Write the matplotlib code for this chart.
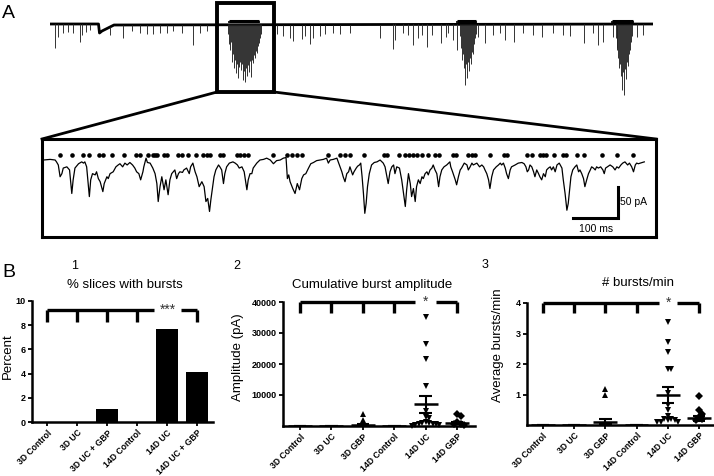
import numpy as np
import matplotlib
matplotlib.use('Agg')
import matplotlib.pyplot as plt
from matplotlib.patches import Rectangle

plt.rcParams['font.family'] = ['Liberation Sans', 'DejaVu Sans']

# ---------------- DATA ----------------
# Panel A, long recording (time in s, amplitude in pA, downward events)
baseline_t = [0, 48.5, 49.5, 52, 56, 60, 64, 603]
baseline_v = [0, 0, -36, -28, -20, -12, -4, 0]
spike_t = [5, 8, 13, 18, 23, 30, 32, 36, 40, 60, 73, 82, 90, 97, 103, 110, 117, 123, 132, 143,
           150, 157, 227, 233, 240, 243, 252, 255, 260, 263, 270, 275, 283, 290, 300, 330, 343, 345,
           353, 358, 363, 368, 372, 377, 382, 391, 396, 398, 403, 407, 428, 435, 443, 450, 455, 464,
           473, 483, 492, 503, 513, 520, 534, 543, 548, 553, 563, 567, 587, 593, 603]
spike_a = [96, 52, 36, 32, 36, 72, 44, 32, 24, 32, 52, 24, 32, 36, 36, 32, 32, 24, 32, 80,
           32, 24, 36, 44, 52, 64, 56, 44, 76, 52, 44, 36, 32, 36, 32, 52, 100, 64,
           36, 44, 84, 56, 44, 92, 44, 76, 52, 36, 64, 104, 52, 76, 44, 36, 64, 72,
           36, 44, 52, 36, 44, 48, 76, 36, 84, 72, 52, 96, 52, 44, 72]
burst1_t = [178, 179, 180, 181, 182, 183, 184, 185, 186, 187, 188, 189, 190, 191, 192, 193, 194,
            195, 196, 197, 198, 199, 200, 201, 202, 203, 204, 205, 206, 207, 208, 209, 210, 211]
burst1_a = [40, 80, 104, 72, 152, 120, 176, 144, 196, 160, 216, 172, 152, 184, 160, 224, 188,
            232, 176, 208, 164, 192, 148, 212, 144, 156, 124, 136, 108, 116, 88, 76, 56, 40]
burst2_t = [410, 411, 412, 413, 414, 415, 416, 417, 418, 419, 420, 421, 422, 423, 424, 425, 426]
burst2_a = [48, 96, 144, 120, 176, 244, 160, 216, 152, 188, 136, 160, 112, 120, 80, 56, 40]
burst3_t = [566, 567, 568, 569, 570, 571, 572, 573, 574, 575, 576, 577, 578, 579, 580, 581, 582]
burst3_a = [56, 104, 136, 176, 160, 208, 264, 192, 284, 180, 220, 152, 168, 120, 104, 72, 48]
burst_start = [179, 407, 562]
burst_end = [209, 426, 583]

# Panel A, expanded trace: (time ms, current pA)
trace_points = [
    (1, 0), (16, 1), (27, 0), (30, -3), (34, -8), (38, -27), (42, -22), (45, -13), (53, -11), (59, -16),
    (64, -54), (67, -32), (71, -13), (79, -6), (86, -3), (90, -5), (93, -3), (97, -11), (103, -59),
    (106, -32), (110, -22), (116, -24), (119, -19), (123, -30), (127, -35), (133, -51), (136, -38),
    (142, -27), (145, -30), (149, -22), (156, -19), (162, -11), (167, -8), (171, -6), (177, -11),
    (182, -5), (187, -8), (193, -4), (199, -8), (204, -13), (208, -19), (213, -22), (217, -32),
    (222, -19), (224, -11), (229, 3), (232, -4), (238, -5), (244, -13), (249, -22), (253, -38),
    (256, -67), (260, -43), (264, -27), (269, -48), (273, -32), (278, -56), (282, -32), (286, -22),
    (293, -16), (297, -30), (301, -22), (304, -19), (310, -20), (313, -16), (319, -13), (325, -22),
    (328, -11), (333, -5), (338, -19), (342, -27), (347, -43), (353, -35), (358, -43), (362, -67),
    (366, -62), (370, -83), (373, -64), (377, -43), (380, -27), (384, -16), (390, -8), (393, -11),
    (397, -16), (401, -38), (404, -22), (408, -11), (414, -5), (422, -3), (427, -5), (432, -8),
    (436, -13), (442, -11), (447, -19), (453, -48), (456, -32), (460, -22),
    (464, -22), (467, -13), (475, -5), (482, 0), (490, 1), (497, 3), (505, 0), (512, -6), (516, -3),
    (519, -1), (527, 0), (534, 3), (540, 4), (543, -30), (546, -24), (549, -35), (555, -46),
    (560, -54), (565, -38), (570, -48), (575, -30), (579, -24), (584, -22), (590, -13), (595, -6),
    (601, -4), (608, -1), (616, 0), (623, 1), (630, 3), (634, -5), (638, 0), (645, 1), (653, 3),
    (656, -3), (660, -11), (664, -19), (667, -27), (671, -35), (675, -22), (679, -19), (682, -11),
    (688, -24), (691, -19), (696, -13), (699, -10), (703, -8), (706, -5), (709, -27), (712, -54),
    (715, -86), (718, -70), (721, -43), (725, -22), (730, -8), (736, -4), (742, -3), (749, 0),
    (756, -5), (760, -11), (764, -27), (767, -38), (771, -19), (775, -11), (779, -8), (782, -22),
    (786, -11), (792, -13), (797, -32), (801, -54), (805, -75), (808, -48), (812, -22), (816, -38),
    (819, -59), (823, -46), (827, -67), (830, -43), (834, -32), (838, -38), (842, -27), (845, -30),
    (849, -22), (853, -19), (856, -24), (860, -16), (864, -13), (867, -8), (871, -16), (875, -22),
    (879, -43), (882, -27), (886, -16), (891, -11), (897, -8), (904, -3),
    (906, -11), (910, -19), (916, -32), (919, -40), (923, -27), (927, -16), (930, -13), (936, -5),
    (942, -8), (945, -16), (949, -11), (953, -5), (956, -8), (964, -5), (970, -11), (975, -8),
    (979, -11), (982, -16), (986, -22), (990, -32), (993, -46), (997, -27), (1001, -16), (1007, -11),
    (1012, -8), (1016, -5), (1019, -8), (1023, -5), (1027, -13), (1030, -22), (1034, -30), (1038, -16),
    (1041, -11), (1049, -8), (1056, -5), (1064, -4), (1069, -6), (1073, -11), (1076, -19), (1079, -16),
    (1082, -8), (1086, -11), (1090, -19), (1093, -27), (1097, -16), (1101, -22), (1104, -27),
    (1108, -32), (1112, -22), (1116, -27), (1119, -16), (1123, -13), (1127, -11), (1130, -16),
    (1134, -11), (1138, -19), (1142, -8), (1147, -5), (1153, -13), (1156, -32), (1160, -54),
    (1164, -81), (1167, -70), (1170, -48), (1173, -27), (1177, -16), (1182, -11), (1186, -8),
    (1190, -19), (1193, -16), (1197, -22), (1201, -30), (1204, -43), (1208, -32), (1212, -22),
    (1216, -16), (1219, -11), (1223, -13), (1227, -16), (1230, -11), (1234, -13), (1239, -11),
    (1244, -16), (1247, -22), (1250, -13), (1254, -11), (1260, -8), (1266, -11), (1271, -16),
    (1275, -11), (1279, -13), (1284, -8), (1288, -5), (1293, -3), (1299, -8), (1303, -5), (1308, -11),
    (1312, -19), (1316, -8), (1319, -5), (1323, -6), (1327, -5), (1336, -3)]
event_t = [38, 64, 88, 103, 125, 133, 153, 181, 207, 216, 234, 244, 249, 254, 269, 276, 299, 308,
           323, 341, 356, 364, 371, 393, 399, 430, 438, 447, 456, 512, 542, 553, 564, 575, 634, 660,
           671, 682, 713, 758, 764, 790, 805, 814, 822, 830, 842, 856, 871, 879, 912, 918, 945, 953,
           960, 993, 1024, 1030, 1076, 1086, 1104, 1112, 1118, 1136, 1155, 1162, 1186, 1202, 1241,
           1276, 1312]

# Panel B1
cats_b1 = ["3D Control", "3D UC", "3D UC + GBP", "14D Control", "14D UC", "14D UC + GBP"]
pct_bursts = [0, 0, 1.1, 0, 7.7, 4.1]

# Panel B2 / B3
cats_b23 = ["3D Control", "3D UC", "3D GBP", "14D Control", "14D UC", "14D GBP"]
amp_3d_control = [0] * 12
amp_3d_uc = [0] * 14
amp_3d_gbp = [3900, 1800] + [0] * 17
amp_14d_control = [0] * 12
amp_14d_uc = [35200, 26300, 21600, 13000, 4900, 2900, 2700, 1200, 1000, 900, 800, 600, 500, 300, 200, 100]
amp_14d_gbp = [3900, 3200, 1400, 700, 600, 300, 0, 0, 0, 0, 0]

rate_3d_control = [0] * 12
rate_3d_uc = [0] * 14
rate_3d_gbp = [1.17, 0.98] + [0] * 17
rate_14d_control = [0] * 12
rate_14d_uc = [3.39, 2.71, 2.38, 1.85, 1.85, 1.05, 0.66, 0.5, 0.3, 0.2, 0.2, 0.15, 0.15, 0.1, 0.1, 0.1]
rate_14d_gbp = [0.96, 0.49, 0.36, 0.25, 0.2, 0.15, 0, 0, 0, 0, 0]
group_markers = ['^', '^', '^', 'v', 'v', 'D']

# ---------------- FIGURE ----------------
W, H = 714, 476
fig = plt.figure(figsize=(W / 100, H / 100), dpi=100)


def ax_px(left, top, right, bottom):
    a = fig.add_axes([left / W, 1 - bottom / H, (right - left) / W, (bottom - top) / H])
    a.set_facecolor('none')
    return a


ov = fig.add_axes([0, 0, 1, 1])
ov.set_xlim(0, W)
ov.set_ylim(H, 0)
ov.axis('off')
ov.set_facecolor('none')

# ---- Panel A long trace ----
axT = ax_px(50, 0, 653, 100)
axT.set_xlim(0, 603)
axT.set_ylim(-304, 96)
axT.axis('off')
axT.plot(baseline_t, baseline_v, color='black', lw=2.0)
sb = np.interp(spike_t, baseline_t, baseline_v)
axT.vlines(spike_t, sb, sb - np.array(spike_a), color='#333333', lw=0.7)
for bt, ba in [(burst1_t, burst1_a), (burst2_t, burst2_a), (burst3_t, burst3_a)]:
    axT.vlines(bt, 0, -np.array(ba), color='#222222', lw=0.65)
for s, e in zip(burst_start, burst_end):
    axT.hlines(12, s, e, color='black', lw=2.2)
    axT.vlines([s, e], 4, 12, color='black', lw=1.2)

ov.add_patch(Rectangle((217, 2.5), 57, 89.5, fill=False, lw=2.8, ec='black'))
ov.plot([217, 42], [92, 139], color='black', lw=2)
ov.plot([274, 656], [92, 139], color='black', lw=2)

# ---- Panel A expanded trace ----
zt = [p[0] for p in trace_points]
zi = [p[1] for p in trace_points]
axZ = ax_px(42, 139, 656, 237)
axZ.set_xlim(-2.2, 1362)
axZ.set_ylim(-124.2, 33.9)
axZ.set_xticks([])
axZ.set_yticks([])
for sp in axZ.spines.values():
    sp.set_linewidth(2.2)
axZ.plot(zt, zi, color='black', lw=0.9)
axZ.plot(event_t, np.full(len(event_t), 8.0), 'o', color='black', ms=3.3, mew=0)
axZ.plot([1178, 1278, 1278], [-93.5, -93.5, -43.5], color='black', lw=2.2, solid_joinstyle='miter')
axZ.text(1283, -68, '50 pA', fontsize=7.5, va='center', ha='left')
axZ.text(1228, -103, '100 ms', fontsize=7.5, va='top', ha='center')

ov.text(2, 18, 'A', fontsize=14, ha='left', va='baseline')
ov.text(2, 277, 'B', fontsize=14, ha='left', va='baseline')


# ---- helpers ----
def style_axis(ax, cats):
    for s in ['top', 'right']:
        ax.spines[s].set_visible(False)
    for s in ['left', 'bottom']:
        ax.spines[s].set_linewidth(1.8)
    ax.tick_params(axis='both', direction='out', length=3, width=1.3, labelsize=6.5, pad=1.5)
    ax.set_xticks(range(len(cats)))
    ax.set_xticklabels(cats, rotation=45, ha='right', rotation_mode='anchor',
                       fontweight='bold', fontsize=6.2)
    for lab in ax.get_yticklabels():
        lab.set_fontweight('bold')


def bracket(ax, y_top, y_tick, seg1_end, seg2_start, last, tick_cats, star, star_fs):
    kw = dict(color='black', lw=2.4, clip_on=False, solid_capstyle='butt')
    ax.plot([0, seg1_end], [y_top, y_top], **kw)
    ax.plot([seg2_start, last], [y_top, y_top], **kw)
    for c in tick_cats:
        ax.plot([c, c], [y_top, y_tick], **kw)
    ax.text((seg1_end + seg2_start) / 2, y_top, star, ha='center', va='center',
            fontsize=star_fs, clip_on=False, color='#333333')


def swarm_offsets(vals, ax, spacing=0.11, min_px=4.0):
    vals = np.asarray(vals, float)
    order = np.argsort(-vals)
    offs = np.zeros(len(vals))
    placed = []
    y0 = ax.transData.transform([(0, 0)])[0][1]
    y1 = ax.transData.transform([(0, 1)])[0][1]
    ppu = abs(y1 - y0)
    cand = [0.0]
    for j in range(1, 10):
        cand += [j * spacing, -j * spacing]
    for i in order:
        for c in cand:
            ok = True
            for (pv, pc) in placed:
                if abs(pv - vals[i]) * ppu < min_px and abs(pc - c) < spacing * 0.9:
                    ok = False
                    break
            if ok:
                offs[i] = c
                placed.append((vals[i], c))
                break
    return offs


def scatter_groups(ax, groups):
    for ci, (vals, mk) in enumerate(zip(groups, group_markers)):
        vals = np.asarray(vals, float)
        m = vals.mean()
        sem = vals.std(ddof=1) / np.sqrt(len(vals))
        nz = vals[vals > 0]
        if len(nz):
            offs = swarm_offsets(nz, ax)
            ms = 3.6 if mk == 'D' else 4.2
            ax.plot(ci + offs, nz, mk, color='black', ms=ms, mew=0, clip_on=False)
        ax.hlines(m, ci - 0.38, ci + 0.38, color='black', lw=1.8)
        ax.vlines(ci, m - sem, m + sem, color='black', lw=1.5)
        ax.hlines([m - sem, m + sem], ci - 0.2, ci + 0.2, color='black', lw=1.5)


# ---- B1 ----
ax1 = ax_px(32, 301, 213, 422)
ax1.bar(range(len(cats_b1)), pct_bursts, width=0.73, color='black')
ax1.set_xlim(-0.5, 5.53)
ax1.set_ylim(0, 10)
ax1.set_yticks([0, 2, 4, 6, 8, 10])
style_axis(ax1, cats_b1)
bracket(ax1, 9.26, 8.3, 3.55, 4.48, 5, [0, 1, 2, 3, 5], '***', 10)
ov.text(125, 285, '% slices with bursts', fontsize=9.5, ha='center', va='center')
ov.text(75, 266, '1', fontsize=9, ha='center', va='center')
ov.text(8, 356, 'Percent', fontsize=9.5, rotation=90, ha='center', va='center')

# ---- B2 ----
ax2 = ax_px(283, 302, 475, 426)
ax2.set_xlim(-0.54, 5.57)
ax2.set_ylim(0, 40000)
ax2.set_yticks([10000, 20000, 30000, 40000])
style_axis(ax2, cats_b23)
scatter_groups(ax2, [amp_3d_control, amp_3d_uc, amp_3d_gbp, amp_14d_control, amp_14d_uc, amp_14d_gbp])
bracket(ax2, 40000, 36450, 3.66, 4.32, 5, [0, 1, 2, 3, 5], '*', 10)
ov.text(372, 285, 'Cumulative burst amplitude', fontsize=9.5, ha='center', va='center')
ov.text(237, 266, '2', fontsize=9, ha='center', va='center')
ov.text(238, 357, 'Amplitude (pA)', fontsize=9.5, rotation=90, ha='center', va='center')

# ---- B3 ----
ax3 = ax_px(527, 303, 713, 425)
ax3.set_xlim(-0.51, 5.45)
ax3.set_ylim(0, 4)
ax3.set_yticks([1, 2, 3, 4])
style_axis(ax3, cats_b23)
scatter_groups(ax3, [rate_3d_control, rate_3d_uc, rate_3d_gbp, rate_14d_control, rate_14d_uc, rate_14d_gbp])
bracket(ax3, 4.0, 3.67, 3.72, 4.3, 5, [0, 1, 2, 3, 5], '*', 10)
ov.text(638, 283, '# bursts/min', fontsize=9.5, ha='center', va='center')
ov.text(485, 265, '3', fontsize=9, ha='center', va='center')
ov.text(498, 345, 'Average bursts/min', fontsize=9.5, rotation=90, ha='center', va='center')

fig.savefig('out.png', dpi=100)
